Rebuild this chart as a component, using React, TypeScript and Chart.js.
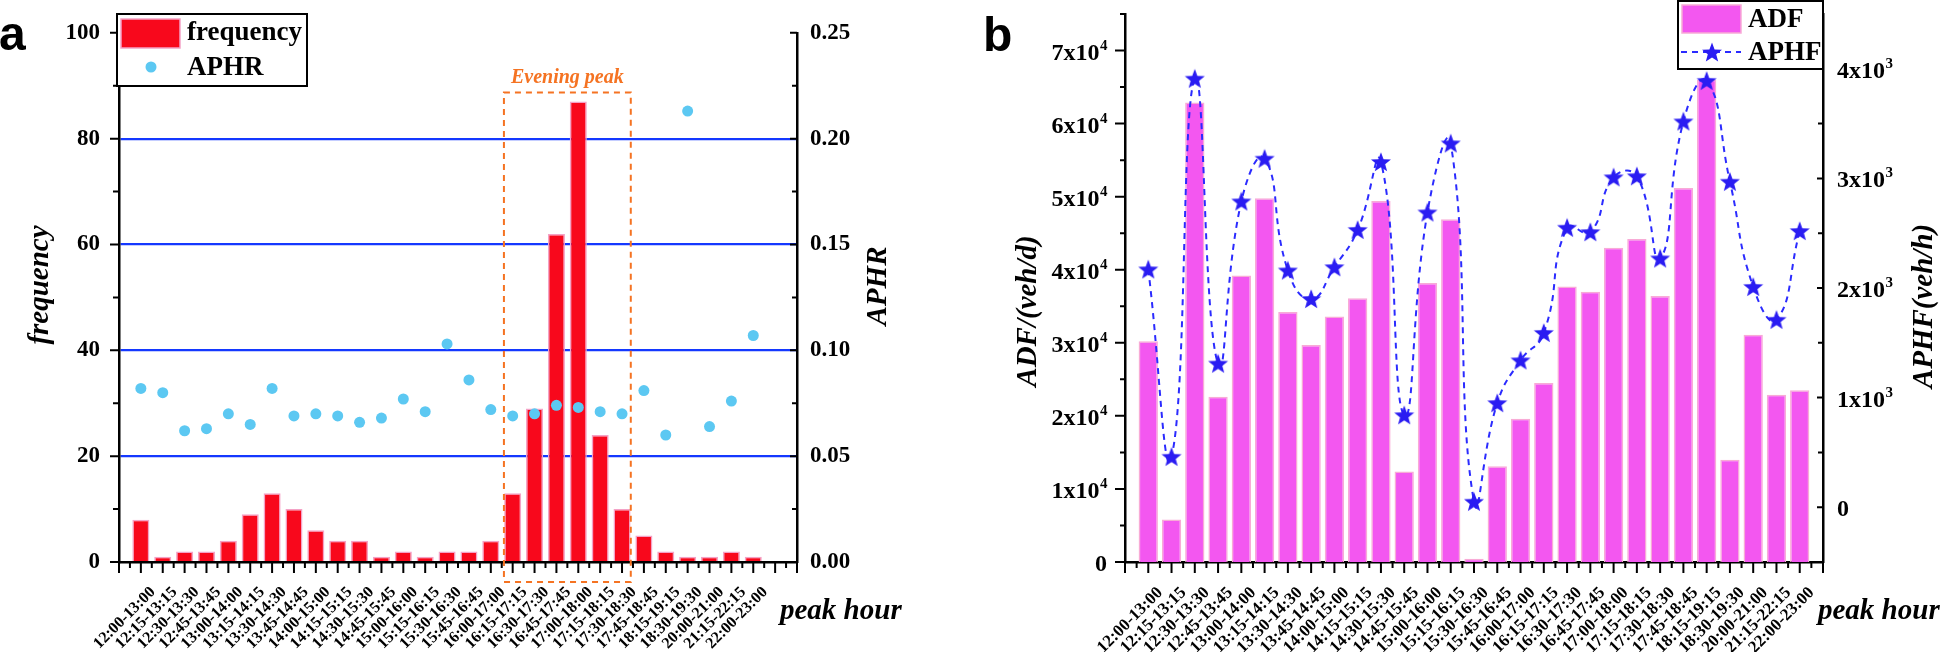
import React, { useEffect, useRef } from 'react';
import { Chart, registerables } from 'chart.js';

Chart.register(...registerables);

// ---------- data ----------
const periods = [
  '12:00-13:00', '12:15-13:15', '12:30-13:30', '12:45-13:45', '13:00-14:00', '13:15-14:15',
  '13:30-14:30', '13:45-14:45', '14:00-15:00', '14:15-15:15', '14:30-15:30', '14:45-15:45',
  '15:00-16:00', '15:15-16:15', '15:30-16:30', '15:45-16:45', '16:00-17:00', '16:15-17:15',
  '16:30-17:30', '16:45-17:45', '17:00-18:00', '17:15-18:15', '17:30-18:30', '17:45-18:45',
  '18:15-19:15', '18:30-19:30', '20:00-21:00', '21:15-22:15', '22:00-23:00',
];
const frequency = [8, 1, 2, 2, 4, 9, 13, 10, 6, 4, 4, 1, 2, 1, 2, 2, 4, 13, 29, 62, 87, 24, 10, 5, 2, 1, 1, 2, 1];
const aphr = [
  0.082, 0.080, 0.062, 0.063, 0.070, 0.065, 0.082, 0.069, 0.070, 0.069, 0.066, 0.068, 0.077, 0.071,
  0.103, 0.086, 0.072, 0.069, 0.070, 0.074, 0.073, 0.071, 0.070, 0.081, 0.060, 0.213, 0.064, 0.076, 0.107,
];
const adf = [
  30200, 5800, 62900, 22600, 39200, 49800, 34200, 29700, 33600, 36100, 49400, 12400, 38200, 46900,
  450, 13100, 19600, 24500, 37700, 37000, 43000, 44200, 36400, 51200, 66000, 14000, 31100, 22900, 23500,
];
const aphf = [
  2170, 460, 3910, 1310, 2790, 3180, 2160, 1900, 2190, 2530, 3150, 840, 2690, 3320,
  50, 950, 1340, 1590, 2550, 2510, 3010, 3020, 2270, 3520, 3890, 2970, 2010, 1710, 2520,
];
const eveningPeak = { first: '16:15-17:15', last: '17:30-18:30', label: 'Evening peak' };
const freqGridValues = [20, 40, 60, 80];
const adfTickValues = [0, 10000, 20000, 30000, 40000, 50000, 60000, 70000];
const aphfTickValues = [0, 1000, 2000, 3000, 4000];

// ---------- styles ----------
const SERIF = '"Liberation Serif", "Times New Roman", serif';
const SANS = '"Liberation Sans", Arial, sans-serif';
const RED = '#f8081c';
const RED_EDGE = '#f4a2c6';
const CYAN = '#5cc8f2';
const BLUE_GRID = '#1438ff';
const ORANGE = '#f57322';
const PINK = '#f357f0';
const PINK_EDGE = '#f8abd6';
const STAR_BLUE = '#2a1cf2';
const LINE_BLUE = '#2b2bff';

const xLabel = (v: any) => {
  const n = Number(v);
  return Number.isInteger(n) && n >= 0 && n < periods.length ? periods[n] : '';
};

function makeStar(size: number, color: string) {
  const c = document.createElement('canvas');
  c.width = size;
  c.height = size;
  const g = c.getContext('2d')!;
  const cx = size / 2, cy = size / 2 + 0.8, R = size / 2 - 0.5, r = R * 0.42;
  g.beginPath();
  for (let k = 0; k < 10; k++) {
    const a = -Math.PI / 2 + (k * Math.PI) / 5;
    const rad = k % 2 === 0 ? R : r;
    g.lineTo(cx + rad * Math.cos(a), cy + rad * Math.sin(a));
  }
  g.closePath();
  g.fillStyle = color;
  g.fill();
  return c;
}

function drawStar(ctx: CanvasRenderingContext2D, cx: number, cy: number, R: number, color: string) {
  const r = R * 0.42;
  ctx.beginPath();
  for (let k = 0; k < 10; k++) {
    const a = -Math.PI / 2 + (k * Math.PI) / 5;
    const rad = k % 2 === 0 ? R : r;
    ctx.lineTo(cx + rad * Math.cos(a), cy + rad * Math.sin(a));
  }
  ctx.closePath();
  ctx.fillStyle = color;
  ctx.fill();
}

type Side = 'bottom' | 'left' | 'right-in';
function tickMarks(
  ctx: CanvasRenderingContext2D, chart: any, scale: any, min: number, max: number,
  step: number, majorStep: number, majLen: number, minLen: number, side: Side,
) {
  const area = chart.chartArea;
  const n = Math.round((max - min) / step);
  ctx.save();
  ctx.strokeStyle = '#000';
  ctx.lineWidth = 2;
  ctx.beginPath();
  for (let k = 0; k <= n; k++) {
    const v = min + k * step;
    const q = v / majorStep;
    const major = Math.abs(q - Math.round(q)) < 1e-6;
    const len = major ? majLen : minLen;
    const p = scale.getPixelForValue(v);
    if (side === 'bottom') {
      ctx.moveTo(p, area.bottom);
      ctx.lineTo(p, area.bottom + len);
    } else if (side === 'left') {
      ctx.moveTo(area.left, p);
      ctx.lineTo(area.left - len, p);
    } else {
      ctx.moveTo(area.right, p);
      ctx.lineTo(area.right - len, p);
    }
  }
  ctx.stroke();
  ctx.restore();
}

function vText(ctx: CanvasRenderingContext2D, text: string, cx: number, cy: number, font: string) {
  ctx.save();
  ctx.translate(cx, cy);
  ctx.rotate(-Math.PI / 2);
  ctx.font = font;
  ctx.fillStyle = '#000';
  ctx.textAlign = 'center';
  ctx.textBaseline = 'middle';
  ctx.fillText(text, 0, 0);
  ctx.restore();
}

function sciLabel(
  ctx: CanvasRenderingContext2D, value: number, exp: number, x: number, y: number, align: 'left' | 'right',
) {
  ctx.save();
  ctx.fillStyle = '#000';
  ctx.textBaseline = 'alphabetic';
  ctx.textAlign = 'left';
  const baseFont = `bold 24px ${SERIF}`;
  const supFont = `bold 15px ${SERIF}`;
  const base = value === 0 ? '0' : `${Math.round(value / Math.pow(10, exp))}x10`;
  const sup = value === 0 ? '' : String(exp);
  ctx.font = baseFont;
  const bw = ctx.measureText(base).width;
  ctx.font = supFont;
  const sw = sup ? ctx.measureText(sup).width : 0;
  const start = align === 'right' ? x - bw - sw : x;
  ctx.font = baseFont;
  ctx.fillText(base, start, y + 9);
  if (sup) {
    ctx.font = supFont;
    ctx.fillText(sup, start + bw + 0.5, y - 1);
  }
  ctx.restore();
}

const TITLE_FONT = `italic bold 29px ${SERIF}`;

const decorA = {
  id: 'decorA',
  afterDatasetsDraw(chart: any) {
    const { ctx, chartArea, scales } = chart;
    const i0 = periods.indexOf(eveningPeak.first);
    const i1 = periods.indexOf(eveningPeak.last);
    const left = scales.x.getPixelForValue(i0 - 0.4);
    const right = scales.x.getPixelForValue(i1 + 0.4);
    const top = scales.y.getPixelForValue(Math.max(...frequency.slice(i0, i1 + 1)) + 1.7);
    const bottom = chartArea.bottom + 20;
    ctx.save();
    ctx.setLineDash([6, 5]);
    ctx.strokeStyle = ORANGE;
    ctx.lineWidth = 2;
    ctx.strokeRect(left, top, right - left, bottom - top);
    ctx.setLineDash([]);
    ctx.font = `italic bold 20px ${SERIF}`;
    ctx.fillStyle = ORANGE;
    ctx.textAlign = 'center';
    ctx.textBaseline = 'alphabetic';
    ctx.fillText(eveningPeak.label, (left + right) / 2, top - 10);
    ctx.restore();
  },
  afterDraw(chart: any) {
    const { ctx, scales } = chart;
    tickMarks(ctx, chart, scales.x, -1, 30, 0.5, 1, 11, 6, 'bottom');
    tickMarks(ctx, chart, scales.y, 0, 100, 10, 20, 9, 6, 'left');
    tickMarks(ctx, chart, scales.y1, 0, 0.25, 0.025, 0.05, 7, 5, 'right-in');

    vText(ctx, 'frequency', 41, 285, TITLE_FONT);
    vText(ctx, 'APHR', 879, 286, TITLE_FONT);
    ctx.save();
    ctx.font = TITLE_FONT;
    ctx.fillStyle = '#000';
    ctx.textAlign = 'left';
    ctx.textBaseline = 'alphabetic';
    ctx.fillText('peak hour', 780, 619);
    ctx.font = `bold 48px ${SANS}`;
    ctx.fillText('a', -1, 50);

    // legend
    ctx.fillStyle = '#fff';
    ctx.fillRect(117, 14, 190, 72);
    ctx.strokeStyle = '#000';
    ctx.lineWidth = 2;
    ctx.strokeRect(117, 14, 190, 72);
    ctx.fillStyle = RED;
    ctx.fillRect(121, 19, 59, 29);
    ctx.strokeStyle = RED_EDGE;
    ctx.lineWidth = 1.5;
    ctx.strokeRect(121, 19, 59, 29);
    ctx.fillStyle = CYAN;
    ctx.beginPath();
    ctx.arc(151, 67, 5.5, 0, Math.PI * 2);
    ctx.fill();
    ctx.fillStyle = '#000';
    ctx.font = `bold 27px ${SERIF}`;
    ctx.textBaseline = 'middle';
    ctx.fillText(chart.data.datasets[0].label, 187, 33);
    ctx.fillText(chart.data.datasets[1].label, 187, 68);
    ctx.restore();
  },
};

const decorB = {
  id: 'decorB',
  afterDraw(chart: any) {
    const { ctx, scales, chartArea } = chart;
    tickMarks(ctx, chart, scales.x, -1, 29, 0.5, 1, 11, 6, 'bottom');
    tickMarks(ctx, chart, scales.y, 0, 75000, 5000, 10000, 10, 5, 'left');
    tickMarks(ctx, chart, scales.y1, -500, 4500, 500, 1000, 6, 5, 'right-in');

    adfTickValues.forEach((v) => sciLabel(ctx, v, 4, chartArea.left - 18, scales.y.getPixelForValue(v), 'right'));
    aphfTickValues.forEach((v) => sciLabel(ctx, v, 3, chartArea.right + 14, scales.y1.getPixelForValue(v), 'left'));

    vText(ctx, 'ADF/(veh/d)', 57, 311, TITLE_FONT);
    vText(ctx, 'APHF(veh/h)', 953, 306, TITLE_FONT);
    ctx.save();
    ctx.font = TITLE_FONT;
    ctx.fillStyle = '#000';
    ctx.textAlign = 'left';
    ctx.textBaseline = 'alphabetic';
    ctx.fillText('peak hour', 846, 619);
    ctx.font = `bold 48px ${SANS}`;
    ctx.fillText('b', 11, 51);

    // legend
    const L = 706, T = 1, W = 145, H = 68;
    ctx.fillStyle = '#fff';
    ctx.fillRect(L, T, W, H);
    ctx.strokeStyle = '#000';
    ctx.lineWidth = 2;
    ctx.strokeRect(L, T, W, H);
    ctx.fillStyle = PINK;
    ctx.fillRect(710, 5, 59, 28);
    ctx.strokeStyle = PINK_EDGE;
    ctx.lineWidth = 1.5;
    ctx.strokeRect(710, 5, 59, 28);
    ctx.strokeStyle = LINE_BLUE;
    ctx.lineWidth = 2;
    ctx.setLineDash([6, 5]);
    ctx.beginPath();
    ctx.moveTo(709, 52);
    ctx.lineTo(769, 52);
    ctx.stroke();
    ctx.setLineDash([]);
    drawStar(ctx, 740, 53, 10.5, STAR_BLUE);
    ctx.fillStyle = '#000';
    ctx.font = `bold 27px ${SERIF}`;
    ctx.textBaseline = 'middle';
    ctx.fillText(chart.data.datasets[0].label, 776, 20);
    ctx.fillText(chart.data.datasets[1].label, 776, 53);
    ctx.restore();
  },
};

const tickFont = (size: number) => ({ family: SERIF, size, weight: 'bold' as const });

export default function App() {
  const refA = useRef<HTMLCanvasElement | null>(null);
  const refB = useRef<HTMLCanvasElement | null>(null);

  useEffect(() => {
    const star = makeStar(22, STAR_BLUE);

    const chartA = new Chart(refA.current!, {
      type: 'bar',
      data: {
        datasets: [
          {
            type: 'bar',
            label: 'frequency',
            data: frequency.map((y, i) => ({ x: i, y })),
            backgroundColor: RED,
            borderColor: RED_EDGE,
            borderWidth: 1.5,
            categoryPercentage: 1,
            barPercentage: 0.78,
            yAxisID: 'y',
            order: 2,
          } as any,
          {
            type: 'line',
            label: 'APHR',
            data: aphr.map((y, i) => ({ x: i, y })),
            showLine: false,
            backgroundColor: CYAN,
            borderColor: CYAN,
            borderWidth: 0,
            pointRadius: 5.5,
            pointBorderWidth: 0,
            yAxisID: 'y1',
            order: 1,
          } as any,
        ],
      },
      options: {
        animation: false,
        responsive: false,
        devicePixelRatio: 1,
        layout: { padding: { top: 14, left: 0, right: 0, bottom: 0 } },
        plugins: { legend: { display: false }, tooltip: { enabled: false } },
        scales: {
          x: {
            type: 'linear',
            position: 'bottom',
            min: -1,
            max: 30,
            offset: false,
            grid: { display: false, drawTicks: false, offset: false },
            border: { display: true, color: '#000', width: 2.5 },
            ticks: {
              stepSize: 1,
              autoSkip: false,
              maxRotation: 45,
              minRotation: 45,
              padding: 21,
              labelOffset: 12,
              callback: xLabel,
              font: tickFont(16),
              color: '#000',
            },
            afterFit: (s: any) => { s.height = 90; },
          },
          y: {
            type: 'linear',
            position: 'left',
            min: 0,
            max: 100,
            ticks: { stepSize: 20, padding: 19, font: tickFont(23), color: '#000' },
            grid: {
              drawTicks: false,
              lineWidth: 2.2,
              color: (c: any) => (freqGridValues.includes(c.tick?.value) ? BLUE_GRID : 'rgba(0,0,0,0)'),
            },
            border: { display: true, color: '#000', width: 2.5 },
            afterFit: (s: any) => { s.width = 119; },
          },
          y1: {
            type: 'linear',
            position: 'right',
            min: 0,
            max: 0.25,
            ticks: {
              stepSize: 0.05,
              padding: 13,
              font: tickFont(23),
              color: '#000',
              callback: (v: any) => Number(v).toFixed(2),
            },
            grid: { display: false, drawTicks: false },
            border: { display: true, color: '#000', width: 2.5 },
            afterFit: (s: any) => { s.width = 175; },
          },
        },
      } as any,
      plugins: [decorA],
    });

    const chartB = new Chart(refB.current!, {
      type: 'bar',
      data: {
        datasets: [
          {
            type: 'bar',
            label: 'ADF',
            data: adf.map((y, i) => ({ x: i, y })),
            backgroundColor: PINK,
            borderColor: PINK_EDGE,
            borderWidth: 1.5,
            categoryPercentage: 1,
            barPercentage: 0.83,
            yAxisID: 'y',
            order: 2,
          } as any,
          {
            type: 'line',
            label: 'APHF',
            data: aphf.map((y, i) => ({ x: i, y })),
            borderColor: LINE_BLUE,
            borderWidth: 2,
            borderDash: [6, 5],
            tension: 0.5,
            fill: false,
            pointStyle: star,
            pointRadius: 11,
            yAxisID: 'y1',
            order: 1,
          } as any,
        ],
      },
      options: {
        animation: false,
        responsive: false,
        devicePixelRatio: 1,
        layout: { padding: { top: 14, left: 0, right: 0, bottom: 0 } },
        plugins: { legend: { display: false }, tooltip: { enabled: false } },
        scales: {
          x: {
            type: 'linear',
            position: 'bottom',
            min: -1,
            max: 29,
            offset: false,
            grid: { display: false, drawTicks: false, offset: false },
            border: { display: true, color: '#000', width: 2.5 },
            ticks: {
              stepSize: 1,
              autoSkip: false,
              maxRotation: 45,
              minRotation: 45,
              padding: 21,
              labelOffset: 12,
              callback: xLabel,
              font: tickFont(17),
              color: '#000',
            },
            afterFit: (s: any) => { s.height = 90; },
          },
          y: {
            type: 'linear',
            position: 'left',
            min: 0,
            max: 75000,
            ticks: { display: false, stepSize: 10000 },
            grid: { display: false, drawTicks: false },
            border: { display: true, color: '#000', width: 2.5 },
            afterFit: (s: any) => { s.width = 153; },
          },
          y1: {
            type: 'linear',
            position: 'right',
            min: -500,
            max: 4500,
            ticks: { display: false, stepSize: 1000 },
            grid: { display: false, drawTicks: false },
            border: { display: true, color: '#000', width: 2.5 },
            afterFit: (s: any) => { s.width = 121; },
          },
        },
      } as any,
      plugins: [decorB],
    });

    return () => {
      chartA.destroy();
      chartB.destroy();
    };
  }, []);

  return (
    <div style={{ position: 'absolute', left: 0, top: 0, width: 1944, height: 652, background: '#fff' }}>
      <canvas
        ref={refA}
        width={972}
        height={652}
        style={{ position: 'absolute', left: 0, top: 0, width: 972, height: 652 }}
      />
      <canvas
        ref={refB}
        width={972}
        height={652}
        style={{ position: 'absolute', left: 972, top: 0, width: 972, height: 652 }}
      />
    </div>
  );
}
